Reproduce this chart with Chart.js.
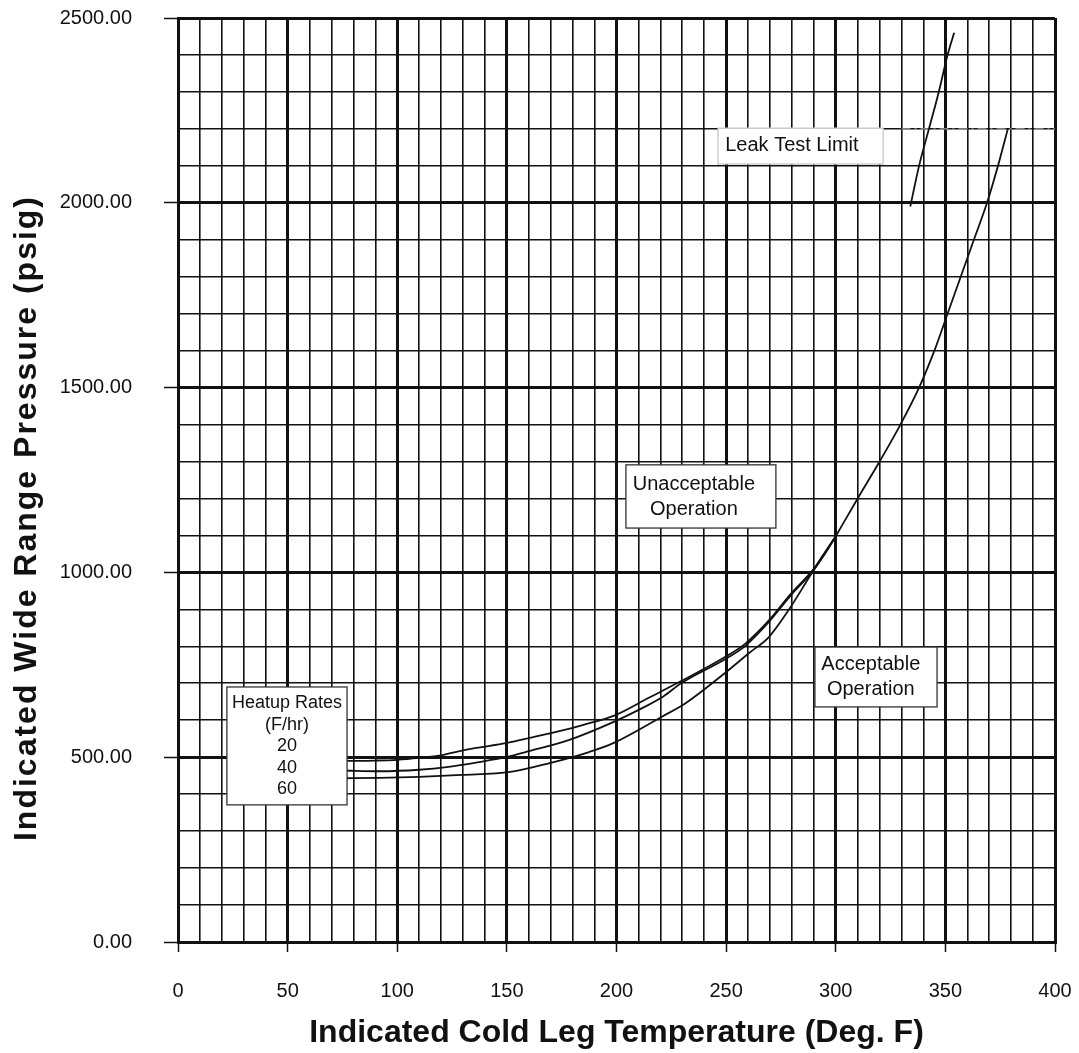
<!DOCTYPE html>
<html>
<head>
<meta charset="utf-8">
<script src="https://cdn.jsdelivr.net/npm/chart.js@4.4.0/dist/chart.umd.min.js"></script>
<style>
  html, body { margin: 0; padding: 0; background: #fff; }
  canvas { display: block; }
</style>
</head>
<body>
<canvas id="myChart" width="1079" height="1053"></canvas>
<script>
'use strict';

/*   DATA: temperature (Deg. F) and pressure (psig)   */
// 20 F/hr heatup curve (lower part, until the curves merge)
const rate20Temp = [75, 90, 100, 110, 120, 126.5, 136, 149.5, 161, 172, 184.5, 199.5, 214.5, 229.5, 249.5, 258.5, 269.5, 279.5, 289.5, 295, 300];
const rate20Press = [490, 491, 493, 498, 505, 514, 525, 538, 553, 568, 587, 614, 660, 706, 771, 806, 870, 942, 1006, 1052, 1098];
// 40 F/hr heatup curve
const rate40Temp = [75, 92, 110, 123.5, 136.5, 149.5, 160.5, 178.5, 198.5, 211.5, 221.5, 229.5, 249.5, 258.5, 269.5, 279.5, 289.5, 295, 300];
const rate40Press = [464, 462, 466, 474, 486, 500, 517, 547, 595, 632, 665, 700, 765, 800, 866, 938, 1003, 1050, 1098];
// 60 F/hr heatup curve
const rate60Temp = [75, 92, 110, 129.5, 151.5, 169.5, 187.5, 198.5, 220.5, 231.5, 249.5, 260.5, 269.5, 278.5, 288, 294, 300];
const rate60Press = [443, 444, 447, 452, 460, 484, 514, 538, 609, 646, 728, 782, 825, 898, 988, 1045, 1098];
// shared upper branch of the three curves
const upperTemp = [300, 310, 320, 329.5, 338, 345, 351, 357, 363, 369, 374, 378.5];
const upperPress = [1098, 1200, 1300, 1400, 1500, 1600, 1700, 1800, 1900, 2000, 2100, 2200];
// leak test limit
const leakTemp = [334, 338, 342.5, 347, 351, 354];
const leakPress = [1990, 2100, 2200, 2300, 2400, 2460];
// faint dash-dot line near the top right
const refTemp = [330, 400];
const refPress = [2200, 2200];

// axis ranges / tick steps
const tempMin = 0, tempMax = 400, tempStep = 10, tempLabelEvery = 50;
const pressMin = 0, pressMax = 2500, pressStep = 100, pressLabelEvery = 500;

// text boxes on the plot: box = [t0, p0, t1, p1], at = text centre (data units)
const noteBoxes = [
  { lines: ['Leak Test Limit'], box: [246.3, 2105, 321.6, 2202], at: [280, 2154], size: 20, gap: 0, frame: '#c8c8c8' },
  { lines: ['Unacceptable', 'Operation'], box: [204.3, 1120, 272.7, 1291], at: [235.3, 1203], size: 20, gap: 25, frame: '#333' },
  { lines: ['Acceptable', 'Operation'], box: [290.5, 636, 346.2, 798], at: [316, 716], size: 20, gap: 25, frame: '#333' },
  { lines: ['Heatup Rates', '(F/hr)', '20', '40', '60'], box: [22.3, 371, 77.1, 690], at: [49.7, 529], size: 18, gap: 21.5, frame: '#333' }
];

const yTitle = 'Indicated Wide Range Pressure (psig)';
const xTitle = 'Indicated Cold Leg Temperature (Deg. F)';
const fontFamily = '"Liberation Sans", Arial, Helvetica, sans-serif';


/*   HELPERS   */
// pair up two arrays into {x, y} points
function toPoints(temps, presses) {
  return temps.map((t, i) => ({ x: t, y: presses[i] }));
}

function curve(temps, presses) {
  return {
    data: toPoints(temps, presses),
    showLine: true,
    borderColor: '#111',
    borderWidth: 1.8,
    pointRadius: 0,
    cubicInterpolationMode: 'monotone'
  };
}

// draws the white boxes with their text on top of the curves
const notePlugin = {
  id: 'notes',
  afterDatasetsDraw(chart) {
    const { ctx, scales: { x, y } } = chart;
    ctx.save();
    for (const note of noteBoxes) {
      const left = x.getPixelForValue(note.box[0]);
      const right = x.getPixelForValue(note.box[2]);
      const top = y.getPixelForValue(note.box[3]);
      const bottom = y.getPixelForValue(note.box[1]);
      ctx.fillStyle = '#fff';
      ctx.fillRect(left, top, right - left, bottom - top);
      ctx.strokeStyle = note.frame;
      ctx.lineWidth = 1.3;
      ctx.strokeRect(left, top, right - left, bottom - top);
      ctx.fillStyle = '#111';
      ctx.font = note.size + 'px ' + fontFamily;
      ctx.textAlign = 'center';
      ctx.textBaseline = 'middle';
      const cx = x.getPixelForValue(note.at[0]);
      const cy = y.getPixelForValue(note.at[1]);
      const n = note.lines.length;
      note.lines.forEach((line, i) => {
        ctx.fillText(line, cx, cy + (i - (n - 1) / 2) * note.gap);
      });
    }
    ctx.restore();
  }
};

// rotated y title, placed a bit below the middle like the scan
const yTitlePlugin = {
  id: 'yTitle',
  afterDraw(chart) {
    const { ctx } = chart;
    ctx.save();
    ctx.translate(36, 518);
    ctx.rotate(-Math.PI / 2);
    ctx.font = 'bold 32px ' + fontFamily;
    ctx.letterSpacing = '2px';
    ctx.fillStyle = '#111';
    ctx.textAlign = 'center';
    ctx.textBaseline = 'alphabetic';
    ctx.fillText(yTitle, 0, 0);
    ctx.restore();
  }
};

function isMajor(value, every) {
  return Math.abs(value % every) < 1e-6;
}


/*   CHART   */
const config = {
  type: 'scatter',
  data: {
    datasets: [
      curve(rate20Temp, rate20Press),
      curve(rate40Temp, rate40Press),
      curve(rate60Temp, rate60Press),
      curve(upperTemp, upperPress),
      curve(leakTemp, leakPress),
      {
        data: toPoints(refTemp, refPress),
        showLine: true,
        borderColor: '#9a9a9a',
        borderWidth: 1.2,
        borderDash: [9, 4, 2, 4],
        pointRadius: 0
      }
    ]
  },
  options: {
    responsive: false,
    animation: false,
    layout: { padding: { top: 18, right: 24, bottom: 0, left: 0 } },
    plugins: {
      legend: { display: false },
      tooltip: { enabled: false }
    },
    scales: {
      x: {
        type: 'linear',
        min: tempMin,
        max: tempMax,
        // fixed height; drop the label overhang padding so the plot keeps its size
        afterFit(scale) {
          scale.height = 111;
          scale.paddingLeft = 0;
          scale.paddingRight = 0;
        },
        border: { display: true, color: '#111', width: 3 },
        grid: {
          color: '#111',
          lineWidth: ctx => isMajor(ctx.tick.value, tempLabelEvery) ? 3 : 1.6,
          tickLength: 10,
          tickWidth: 1.5,
          tickColor: ctx => isMajor(ctx.tick.value, tempLabelEvery) ? '#111' : 'rgba(0,0,0,0)'
        },
        ticks: {
          stepSize: tempStep,
          autoSkip: false,
          maxRotation: 0,
          padding: 27,
          color: '#111',
          font: { family: fontFamily, size: 20 },
          callback: v => isMajor(v, tempLabelEvery) ? String(v) : ''
        },
        title: {
          display: true,
          text: xTitle,
          color: '#111',
          font: { family: fontFamily, size: 32, weight: 'bold', lineHeight: 1 },
          padding: { top: 0, bottom: 4 }
        }
      },
      y: {
        type: 'linear',
        min: pressMin,
        max: pressMax,
        afterFit(scale) {
          scale.width = 178;
          scale.paddingTop = 0;
          scale.paddingBottom = 0;
        },
        border: { display: true, color: '#111', width: 3 },
        grid: {
          color: '#111',
          lineWidth: ctx => isMajor(ctx.tick.value, pressLabelEvery) ? 3 : 1.6,
          tickLength: 14,
          tickWidth: 1.5,
          tickColor: ctx => isMajor(ctx.tick.value, pressLabelEvery) ? '#111' : 'rgba(0,0,0,0)'
        },
        ticks: {
          stepSize: pressStep,
          autoSkip: false,
          padding: 32,
          color: '#111',
          font: { family: fontFamily, size: 20 },
          callback: v => isMajor(v, pressLabelEvery) ? v.toFixed(2) : ''
        }
      }
    }
  },
  plugins: [notePlugin, yTitlePlugin]
};

const myChart = new Chart(document.getElementById('myChart'), config);
</script>
</body>
</html>
